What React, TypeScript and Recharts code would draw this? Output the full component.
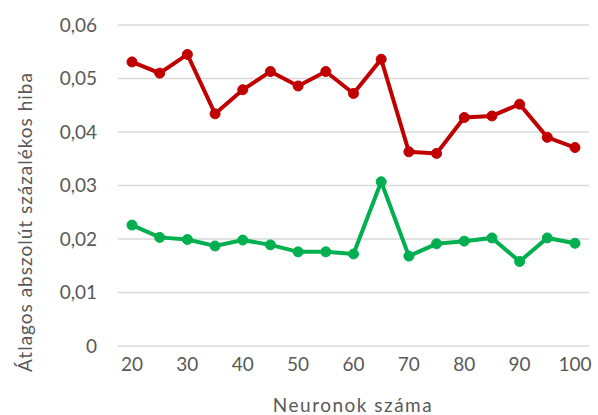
import React from 'react';
import { LineChart, Line, XAxis, YAxis, CartesianGrid } from 'recharts';

// Neuronok száma (x tengely)
const neurons = [20, 25, 30, 35, 40, 45, 50, 55, 60, 65, 70, 75, 80, 85, 90, 95, 100];

// piros sorozat
const redSeries = [
  0.0531, 0.051, 0.0545, 0.0434, 0.0479, 0.0513, 0.0486, 0.0513, 0.0472,
  0.0536, 0.0363, 0.036, 0.0427, 0.043, 0.0452, 0.039, 0.0371,
];

// zöld sorozat
const greenSeries = [
  0.0226, 0.0203, 0.0199, 0.0187, 0.0198, 0.0189, 0.0176, 0.0176, 0.0172,
  0.0307, 0.0168, 0.0191, 0.0196, 0.0202, 0.0158, 0.0202, 0.0192,
];

const yTicks = [0, 0.01, 0.02, 0.03, 0.04, 0.05, 0.06];

const data = neurons.map((n, i) => ({
  n,
  red: redSeries[i],
  green: greenSeries[i],
}));

const FONT = 'Lato, "Open Sans", sans-serif';
const TEXT = '#595959';

const fmtY = (v: number) => (v === 0 ? '0' : v.toFixed(2).replace('.', ','));

export default function App() {
  return (
    <div style={{ width: 598, height: 415 }}>
      <style>{'body{margin:0}'}</style>
      <LineChart
        width={598}
        height={415}
        data={data}
        margin={{ top: 25, right: 9, left: 0, bottom: 0 }}
      >
        <CartesianGrid vertical={false} stroke="#d9d9d9" strokeWidth={1.5} />
        <XAxis
          dataKey="n"
          interval={1}
          height={69}
          axisLine={false}
          tickLine={false}
          tickSize={0}
          tickMargin={12}
          padding={{ left: 14, right: 14 }}
          tick={{ fill: TEXT, fontSize: 19, fontFamily: FONT }}
          label={{
            content: () => (
              <text
                x={353}
                y={404}
                textAnchor="middle"
                dominantBaseline="central"
                fill={TEXT}
                fontSize={19}
                fontFamily={FONT}
                letterSpacing={1.5}
              >
                Neuronok száma
              </text>
            ),
          }}
        />
        <YAxis
          width={118}
          domain={[0, 0.06]}
          ticks={yTicks}
          tickFormatter={fmtY}
          axisLine={false}
          tickLine={false}
          tickSize={0}
          tickMargin={21}
          tick={{ fill: TEXT, fontSize: 19, fontFamily: FONT }}
          label={{
            content: () => (
              <text
                transform="translate(24,222) rotate(-90)"
                textAnchor="middle"
                dominantBaseline="central"
                fill={TEXT}
                fontSize={19}
                fontFamily={FONT}
                letterSpacing={1}
              >
                Átlagos abszolút százalékos hiba
              </text>
            ),
          }}
        />
        <Line
          dataKey="red"
          stroke="#c00000"
          strokeWidth={4}
          dot={{ r: 5, fill: '#c00000', stroke: '#c00000', strokeWidth: 1 }}
          isAnimationActive={false}
        />
        <Line
          dataKey="green"
          stroke="#00b050"
          strokeWidth={4}
          dot={{ r: 5, fill: '#00b050', stroke: '#00b050', strokeWidth: 1 }}
          isAnimationActive={false}
        />
      </LineChart>
    </div>
  );
}
